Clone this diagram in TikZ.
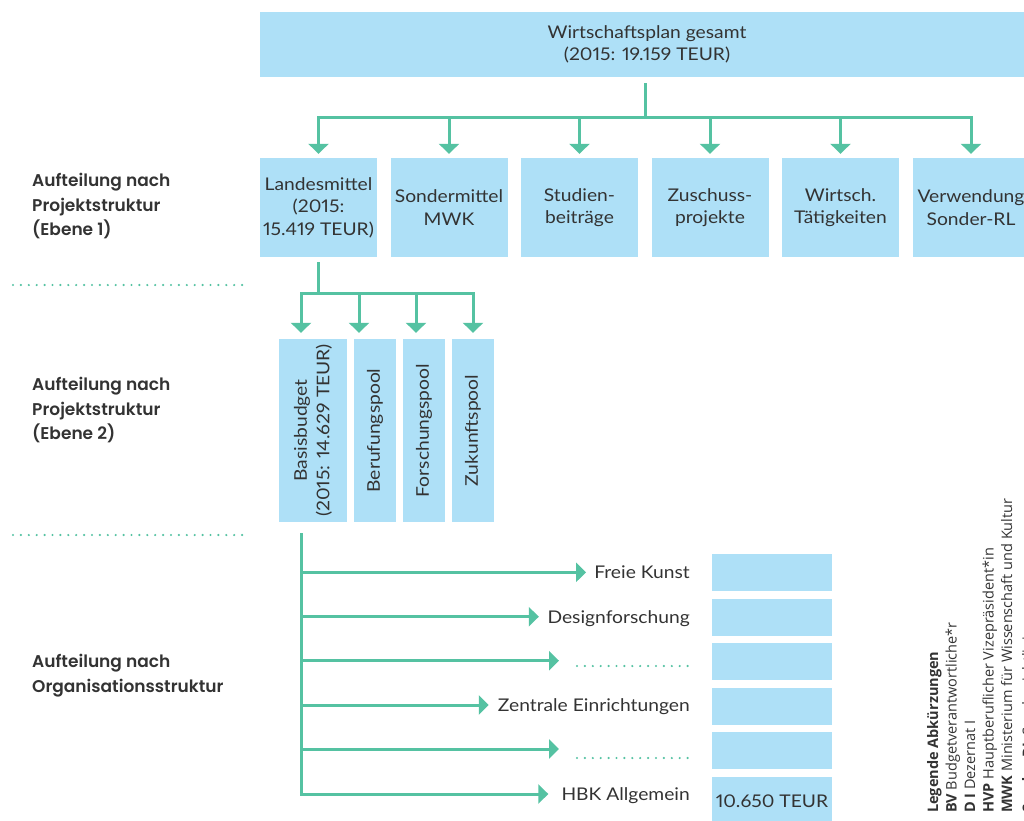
\documentclass[tikz,border=0pt]{standalone}
\usepackage{fontspec}
\setmainfont{Lato}[FakeStretch=1.1, Numbers=Proportional]
\newfontfamily\labfont{Poppins}[UprightFont=* SemiBold]
\newfontfamily\legfont{Open Sans}
\usetikzlibrary{arrows.meta,calc}
\definecolor{tealg}{HTML}{55C2A2}
\definecolor{boxblue}{HTML}{AEE0F7}
\definecolor{txt}{HTML}{333333}
\begin{document}
\begin{tikzpicture}[x=1pt,y=-1pt,
  box/.style={fill=boxblue, draw=none, inner sep=0pt, align=center, text=txt, font=\fontsize{17.5}{22.5}\selectfont},
  line/.style={draw=tealg, line width=3pt},
  arr/.style={line, -{Triangle[width=20pt,length=10pt]}},
  harr/.style={line, -{Triangle[width=19pt,length=10pt]}},
  dots/.style={draw=tealg, line width=2.4pt, line cap=round, dash pattern=on 0pt off 7.9pt},
  lbl/.style={text=txt, font=\labfont\fontsize{17}{24.5}\selectfont, align=left, anchor=north west, inner sep=0pt},
  olbl/.style={text=txt, font=\fontsize{17.5}{22}\selectfont, inner sep=0pt, text height=13pt, text depth=0pt, anchor=east},
  leg/.style={text=txt, font=\legfont\fontsize{14.5}{18}\selectfont, rotate=90, anchor=base west, inner sep=0pt}
]
\useasboundingbox (0,0) rectangle (1024,820);

% top
\node[box, minimum width=774pt, minimum height=65pt] (top) at (647,44.5) {Wirtschaftsplan gesamt\\(2015: 19.159 TEUR)};

% level 1
\node[box, minimum width=117pt, minimum height=99pt] (l1) at (318.5,207.5) {Landesmittel\\(2015:\\15.419 TEUR)};
\node[box, minimum width=117pt, minimum height=99pt] (l2) at (449,207.5) {Sondermittel\\MWK};
\node[box, minimum width=117pt, minimum height=99pt] (l3) at (579.5,207.5) {Studien-\\beiträge};
\node[box, minimum width=117pt, minimum height=99pt] (l4) at (710,207.5) {Zuschuss-\\projekte};
\node[box, minimum width=117pt, minimum height=99pt] (l5) at (840.5,207.5) {Wirtsch.\\Tätigkeiten};
\node[box, minimum width=117pt, minimum height=99pt] (l6) at (971,207.5) {Verwendung\\Sonder-RL};

\coordinate (j1) at (645,117);
\draw[line] ([xshift=-2pt,yshift=-6pt]top.south) -- (j1);
\foreach \n in {l1,l2,l3,l4,l5,l6}{
  \draw[arr] (j1) -| ([yshift=4pt]\n.north);
}

% level 2 (rotated boxes: .east is the top edge, .west the bottom edge)
\node[box, rotate=90, minimum width=183pt, minimum height=67.7pt] (bas) at (312.85,430.5) {Basisbudget\\(2015: 14.629 TEUR)};
\node[box, rotate=90, minimum width=183pt, minimum height=42pt] (ber) at (375,430.5) {Berufungspool};
\node[box, rotate=90, minimum width=183pt, minimum height=42pt] (for) at (424,430.5) {Forschungspool};
\node[box, rotate=90, minimum width=183pt, minimum height=42pt] (zuk) at (473,430.5) {Zukunftspool};

\coordinate (j2) at (318.5,293);
\coordinate (a1) at ([xshift=-11.85pt,yshift=6pt]bas.east);
\coordinate (a2) at ([xshift=-16pt,yshift=6pt]ber.east);
\coordinate (a3) at ([xshift=-8pt,yshift=6pt]for.east);
\coordinate (a4) at ([yshift=6pt]zuk.east);
\draw[line] ([yshift=-5pt]l1.south) -- (j2);
\foreach \a in {a1,a2,a3,a4}{
  \draw[arr] (j2) -| (\a);
}

% level 3 (organisation)
\node[box, minimum width=120pt, minimum height=37pt] (r1) at (772,572.3) {};
\node[box, minimum width=120pt, minimum height=37pt] (r2) at (772,617) {};
\node[box, minimum width=120pt, minimum height=37pt] (r3) at (772,661.5) {};
\node[box, minimum width=120pt, minimum height=37pt] (r4) at (772,706) {};
\node[box, minimum width=120pt, minimum height=37pt] (r5) at (772,750) {};
\node[box, minimum width=120pt, minimum height=48pt] (r6) at (772,801) {10.650 TEUR};

\node[olbl] (fk) at (690,572.3) {Freie Kunst};
\node[olbl] (df) at (690,616.7) {Designforschung};
\node[olbl] (ze) at (690,705) {Zentrale Einrichtungen};
\node[olbl] (hbk) at (690,794) {HBK Allgemein};
\coordinate (d1) at (559,660.7);
\coordinate (d2) at (559,749);

\coordinate (v0) at ([xshift=-11.35pt,yshift=-11pt]bas.west);
\draw[harr] (v0) -- (v0 |- hbk.west) -- ([xshift=-13pt]hbk.west);
\draw[harr] (v0 |- fk.west) -- ([xshift=-8pt]fk.west);
\draw[harr] (v0 |- df.west) -- ([xshift=-8.5pt]df.west);
\draw[harr] (v0 |- d1) -- (d1);
\draw[harr] (v0 |- ze.west) -- ([xshift=-9pt]ze.west);
\draw[harr] (v0 |- d2) -- (d2);

\draw[dots] (577,666) -- (692,666);
\draw[dots] (577,758) -- (692,758);

% left labels and separators
\node[lbl] (t1) at (32,173) {Aufteilung nach\\Projektstruktur\\(Ebene 1)};
\draw[dots] (13,285) -- (243,285);
\node[lbl] (t2) at (32,377) {Aufteilung nach\\Projektstruktur\\(Ebene 2)};
\draw[dots] (13,535) -- (243,535);
\node[lbl] (t3) at (32,654) {Aufteilung nach\\Organisationsstruktur};

% legend
\node[leg] (g0) at (938,813) {\bfseries Legende Abkürzungen};
\node[leg] (g1) at (956.5,813) {\textbf{BV} Budgetverantwortliche*r};
\node[leg] (g2) at (975,813) {\textbf{D I} Dezernat I};
\node[leg] (g3) at (993.5,813) {\textbf{HVP} Hauptberuflicher Vizepräsident*in};
\node[leg] (g4) at (1012,813) {\textbf{MWK} Ministerium für Wissenschaft und Kultur};
\node[leg] (g5) at (1033,813) {\textbf{Sonder-RL} Sonderrichtlinien};
\end{tikzpicture}
\end{document}
